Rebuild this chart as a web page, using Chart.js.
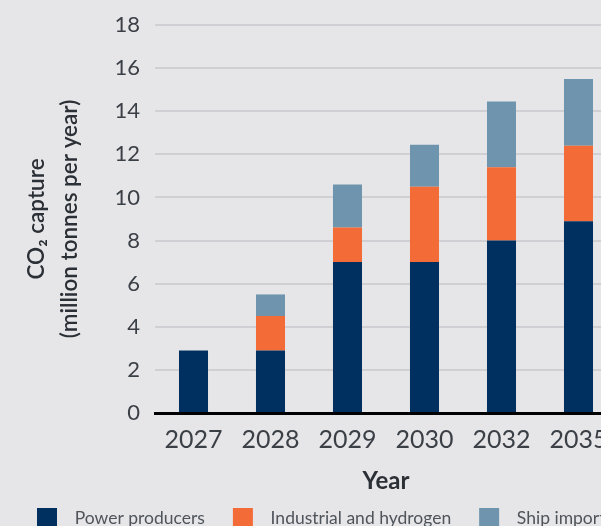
<!DOCTYPE html>
<html lang="en">
<head>
  <meta charset="UTF-8">
  <title>CO2 capture by year</title>
  <script src="https://cdn.jsdelivr.net/npm/chart.js@4.4.1/dist/chart.umd.min.js"></script>
  <style>
    html, body { margin: 0; padding: 0; background: #e6e6e8; overflow: hidden; }
    .chart-wrap { position: absolute; left: 0; top: 0; width: 650px; height: 538px; }
  </style>
</head>
<body>
  <div class="chart-wrap">
    <canvas id="captureChart"></canvas>
  </div>

  <script>
    // values, million tonnes CO2 per year
    const years = ['2027', '2028', '2029', '2030', '2032', '2035'];
    const powerProducers = [2.9, 2.9, 7.0, 7.0, 8.0, 8.9];
    const industrialHydrogen = [0, 1.6, 1.6, 3.5, 3.4, 3.5];
    const shipImports = [0, 1.0, 2.0, 1.95, 3.05, 3.1];
    const yTicks = [0, 2, 4, 6, 8, 10, 12, 14, 16, 18];

    const textColor = '#3b3f46';
    const fontFamily = 'Lato, "Open Sans", sans-serif';

    const ctx = document.getElementById('captureChart').getContext('2d');
    new Chart(ctx, {
      type: 'bar',
      data: {
        labels: years,
        datasets: [
          { label: 'Power producers', data: powerProducers, backgroundColor: '#00305f' },
          { label: 'Industrial and hydrogen', data: industrialHydrogen, backgroundColor: '#f36b36' },
          { label: 'Ship imports', data: shipImports, backgroundColor: '#6f94ad' }
        ]
      },
      options: {
        responsive: true,
        maintainAspectRatio: false,
        animation: false,
        layout: { padding: { left: 0, right: 0, top: 25, bottom: 0 } },
        datasets: { bar: { categoryPercentage: 1, barPercentage: 0.377 } },
        scales: {
          x: {
            stacked: true,
            grid: { display: false },
            border: { display: true, color: '#000', width: 3 },
            ticks: { color: textColor, font: { family: fontFamily, size: 25 }, padding: 4 },
            title: {
              display: true,
              text: 'Year',
              color: '#2b2f36',
              font: { family: fontFamily, size: 24, weight: 'bold' },
              padding: { top: 0, bottom: -15.4 }
            },
            afterFit: (scale) => { scale.height = 67; }
          },
          y: {
            stacked: true,
            min: 0,
            max: 18,
            afterBuildTicks: (scale) => { scale.ticks = yTicks.map(v => ({ value: v })); },
            grid: { color: '#d0d0d4', lineWidth: 2, drawTicks: false },
            border: { display: false },
            ticks: { color: textColor, font: { family: fontFamily, size: 22, lineHeight: 0.9 }, padding: 15 },
            title: {
              display: true,
              text: ['CO\u2082 capture', '(million tonnes per year)'],
              color: '#2b2f36',
              font: { family: fontFamily, size: 22.5, weight: '600', lineHeight: 1.444 },
              padding: { top: 20.7, bottom: 0 }
            },
            afterFit: (scale) => { scale.width = 155; }
          },
          // empty spacer on the right so the plot ends where the figure's does
          spacer: {
            position: 'right',
            grid: { display: false },
            border: { display: false },
            ticks: { display: false },
            afterFit: (scale) => { scale.width = 33; }
          }
        },
        plugins: {
          tooltip: { enabled: false },
          legend: {
            position: 'bottom',
            labels: {
              boxWidth: 20,
              boxHeight: 20,
              padding: 28,
              color: '#4f545b',
              font: { family: fontFamily, size: 17.5 },
              generateLabels: (chart) => {
                const items = Chart.defaults.plugins.legend.labels.generateLabels(chart);
                items.forEach(it => { it.text = '  ' + it.text; it.lineWidth = 0; });
                return items;
              }
            }
          }
        }
      }
    });
  </script>
</body>
</html>
